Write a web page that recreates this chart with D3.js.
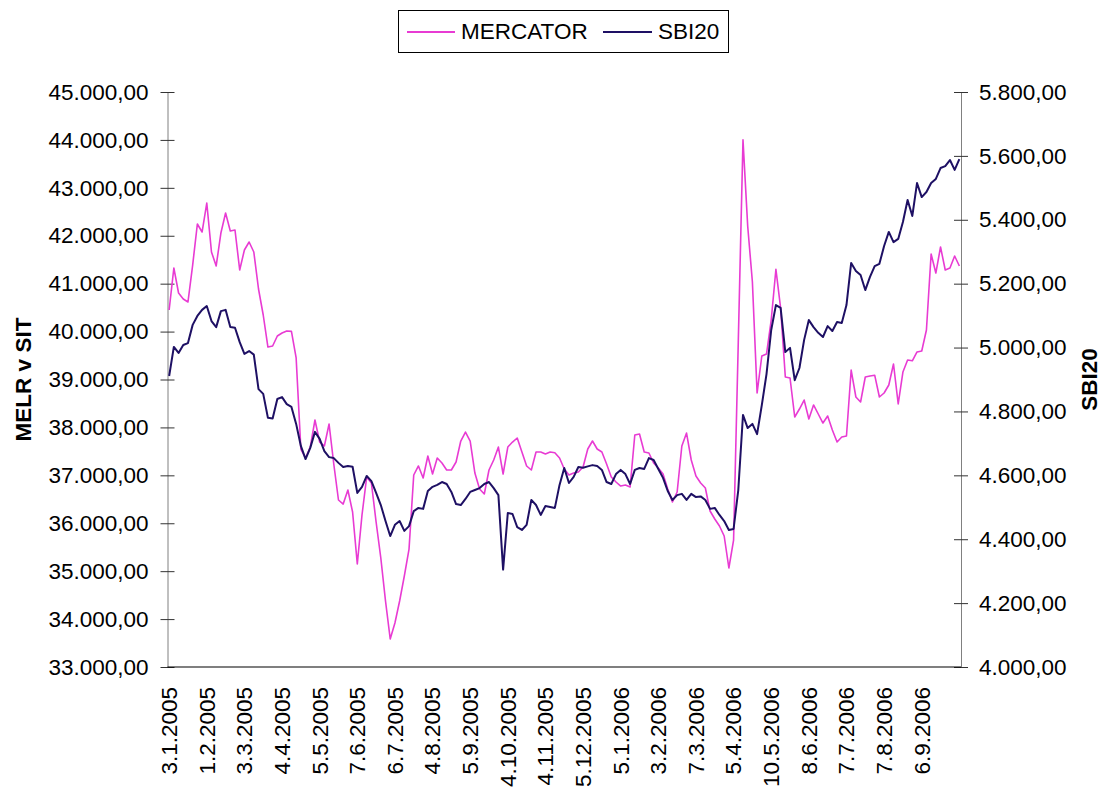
<!DOCTYPE html>
<html>
<head>
<meta charset="utf-8">
<script src="https://cdn.jsdelivr.net/npm/d3@7/dist/d3.min.js"></script>
<style>
  body { margin: 0; background: #fff; }
  text { font-family: "Liberation Sans", Arial, sans-serif; }
</style>
</head>
<body>
<script>
// date labels, one every 8 samples
const dateLabels = ["3.1.2005", "1.2.2005", "3.3.2005", "4.4.2005", "5.5.2005", "7.6.2005",
  "6.7.2005", "4.8.2005", "5.9.2005", "4.10.2005", "4.11.2005", "5.12.2005", "5.1.2006",
  "3.2.2006", "7.3.2006", "5.4.2006", "10.5.2006", "8.6.2006", "7.7.2006", "7.8.2006", "6.9.2006"];
const labelEvery = 8;

// MERCATOR (left axis, MELR v SIT)
const mercator = [
  40450, 41327, 40805, 40680, 40617, 41389, 42245, 42078, 42683, 41661,
  41369, 42057, 42475, 42099, 42120, 41285, 41703, 41870, 41661, 40889,
  40346, 39678, 39699, 39908, 39970, 40012, 40005, 39449, 37549, 37361,
  37591, 38155, 37695, 37612, 38071, 37236, 36485, 36401, 36694, 36235,
  35149, 36172, 36965, 36840, 36026, 35275, 34377, 33584, 33918, 34377,
  34899, 35462, 37007, 37195, 36944, 37403, 37028, 37361, 37257, 37111,
  37111, 37278, 37716, 37904, 37716, 37048, 36715, 36610, 37111, 37320,
  37591, 37028, 37591, 37695, 37779, 37487, 37195, 37111, 37487, 37487,
  37445, 37487, 37470, 37361, 37132, 37007, 37048, 37069, 37174, 37549,
  37716, 37549, 37487, 37236, 36965, 36861, 36777, 36798, 36756, 37842,
  37862, 37487, 37466, 37257, 37153, 37028, 36715, 36443, 36652, 37612,
  37883, 37320, 36986, 36840, 36735, 36255, 36089, 35942, 35734, 35066,
  35650, 39782, 44000, 42203, 41035, 38718, 39490, 39532, 40242, 41300,
  40492, 39052, 39031, 38217, 38384, 38572, 38175, 38468, 38280, 38092,
  38238, 37946, 37695, 37800, 37821, 39198, 38635, 38530, 39052, 39073,
  39090, 38635, 38718, 38885, 39323, 38489, 39156, 39407, 39390, 39574,
  39595, 40033, 41619, 41222, 41765, 41285, 41327, 41577, 41369
];

// SBI20 (right axis)
const sbi20 = [
  4911, 5002, 4983, 5008, 5014, 5071, 5099, 5118, 5130, 5083,
  5064, 5114, 5118, 5064, 5062, 5017, 4980, 4989, 4978, 4870,
  4855, 4780, 4778, 4839, 4845, 4823, 4814, 4761, 4692, 4651,
  4686, 4736, 4714, 4676, 4657, 4654, 4639, 4626, 4629, 4627,
  4545, 4564, 4598, 4582, 4545, 4507, 4457, 4410, 4445, 4457,
  4426, 4441, 4488, 4498, 4495, 4551, 4564, 4570, 4579, 4573,
  4548, 4510, 4507, 4526, 4548, 4554, 4560, 4573, 4579, 4560,
  4538, 4305, 4482, 4479, 4438, 4429, 4445, 4523, 4507, 4476,
  4504, 4501, 4498, 4570, 4623, 4576, 4595, 4626, 4624, 4628,
  4632, 4629, 4617, 4579, 4573, 4604, 4617, 4604, 4573, 4617,
  4623, 4620, 4654, 4648, 4620, 4592, 4551, 4523, 4538, 4542,
  4523, 4542, 4532, 4534, 4523, 4495, 4498, 4476, 4457, 4429,
  4432, 4554, 4789, 4748, 4761, 4729, 4820, 4917, 5055, 5133,
  5124, 4986, 4999, 4898, 4936, 5024, 5086, 5064, 5046, 5033,
  5067, 5052, 5080, 5077, 5133, 5265, 5240, 5227, 5180, 5221,
  5255, 5262, 5318, 5362, 5330, 5340, 5393, 5462, 5412, 5515,
  5471, 5487, 5515, 5528, 5562, 5568, 5587, 5556, 5590
];

const leftTicks = d3.range(33000, 45001, 1000);
const rightTicks = d3.range(4000, 5801, 200);

const colMerc = "#e83bd3", colSbi = "#1e1064";
const fontSize = "22.5px";

// plot area
const plot = {left: 167.5, right: 961, top: 92, bottom: 667};

const svg = d3.select("body").append("svg")
    .attr("width", 1103)
    .attr("height", 787);

svg.append("rect").attr("width", 1103).attr("height", 787).attr("fill", "#fff");

// number format 45.000,00
const loc = d3.formatLocale({decimal: ",", thousands: ".", grouping: [3], currency: ["", ""]});
const fmt = loc.format(",.2f");

var x = d3.scaleLinear()
    .domain([-0.35, mercator.length - 1 + 0.35])
    .range([plot.left, plot.right]);
var yL = d3.scaleLinear().domain([33000, 45000]).range([plot.bottom, plot.top]);
var yR = d3.scaleLinear().domain([4000, 5800]).range([plot.bottom, plot.top]);

// left axis
var gL = svg.append("g")
    .attr("transform", `translate(${plot.left},0)`)
    .call(d3.axisLeft(yL).tickValues(leftTicks).tickFormat(fmt)
        .tickSizeInner(7).tickSizeOuter(0).tickPadding(12));
gL.select(".domain").attr("stroke", "#808080");
gL.selectAll(".tick line").attr("x1", 7).attr("stroke", "#333");
gL.selectAll(".tick text").attr("font-size", fontSize).attr("fill", "#000")
    .attr("font-family", "Liberation Sans, Arial, sans-serif");

// right axis
var gR = svg.append("g")
    .attr("transform", `translate(${plot.right},0)`)
    .call(d3.axisRight(yR).tickValues(rightTicks).tickFormat(fmt)
        .tickSizeInner(7).tickSizeOuter(0).tickPadding(11));
gR.select(".domain").attr("stroke", "#808080");
gR.selectAll(".tick line").attr("x1", -7).attr("stroke", "#333");
gR.selectAll(".tick text").attr("font-size", fontSize).attr("fill", "#000")
    .attr("font-family", "Liberation Sans, Arial, sans-serif");

// bottom axis line
svg.append("line")
    .attr("x1", plot.left).attr("x2", plot.right)
    .attr("y1", plot.bottom).attr("y2", plot.bottom)
    .attr("stroke", "#000").attr("stroke-width", 1.2);

// date labels (rotated)
svg.selectAll("text.date")
    .data(dateLabels)
    .enter().append("text")
    .attr("class", "date")
    .attr("transform", (d, i) => `translate(${x(i * labelEvery)},${plot.bottom + 20}) rotate(-90)`)
    .attr("text-anchor", "end")
    .attr("dy", "0.35em")
    .attr("font-size", fontSize)
    .text(d => d);

// series lines
var lineL = d3.line().x((d, i) => x(i)).y(d => yL(d));
var lineR = d3.line().x((d, i) => x(i)).y(d => yR(d));

svg.append("path")
    .datum(mercator)
    .attr("fill", "none")
    .attr("stroke", colMerc)
    .attr("stroke-width", 1.6)
    .attr("stroke-linejoin", "round")
    .attr("d", lineL);

svg.append("path")
    .datum(sbi20)
    .attr("fill", "none")
    .attr("stroke", colSbi)
    .attr("stroke-width", 2)
    .attr("stroke-linejoin", "round")
    .attr("d", lineR);

// axis titles
svg.append("text")
    .attr("transform", `translate(23,${(plot.top + plot.bottom) / 2}) rotate(-90)`)
    .attr("text-anchor", "middle")
    .attr("dy", "0.35em")
    .attr("font-size", fontSize)
    .attr("font-weight", "bold")
    .text("MELR v SIT");

svg.append("text")
    .attr("transform", `translate(1089,${(plot.top + plot.bottom) / 2}) rotate(-90)`)
    .attr("text-anchor", "middle")
    .attr("dy", "0.35em")
    .attr("font-size", fontSize)
    .attr("font-weight", "bold")
    .text("SBI20");

// legend
var legend = svg.append("g");
legend.append("rect")
    .attr("x", 398.5).attr("y", 10.5)
    .attr("width", 330).attr("height", 42)
    .attr("fill", "#fff").attr("stroke", "#000");

const legendItems = [
  {name: "MERCATOR", color: colMerc, x0: 407, w: 48},
  {name: "SBI20", color: colSbi, x0: 603, w: 49}
];
legendItems.forEach(it => {
  legend.append("line")
      .attr("x1", it.x0).attr("x2", it.x0 + it.w)
      .attr("y1", 32).attr("y2", 32)
      .attr("stroke", it.color).attr("stroke-width", 2);
  legend.append("text")
      .attr("x", it.x0 + it.w + 6).attr("y", 39)
      .attr("font-size", fontSize)
      .text(it.name);
});
</script>
</body>
</html>
